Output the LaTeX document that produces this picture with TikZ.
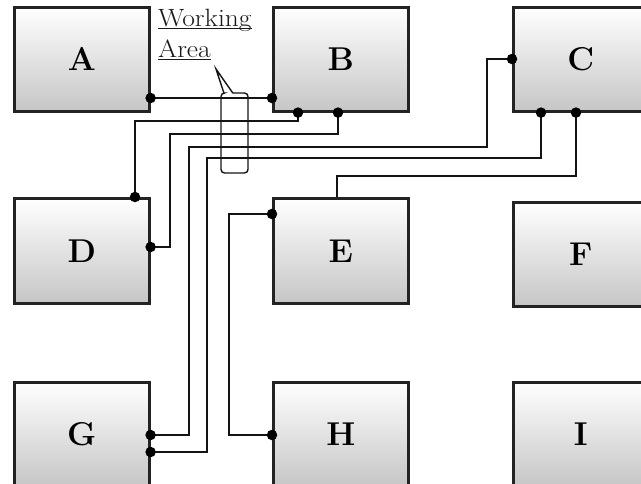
\documentclass[tikz,border=0pt]{standalone}
\usepackage{fontspec}
\newfontfamily\wafont[FakeStretch=1.1]{Latin Modern Roman}
\definecolor{boxc}{RGB}{35,35,35}
\definecolor{wirec}{RGB}{20,20,20}
\newsavebox\myulbox
\newcommand\myul[1]{\sbox\myulbox{#1}\usebox\myulbox\llap{\rule[-3pt]{\wd\myulbox}{1.4pt}}}
\begin{document}
\begin{tikzpicture}[x=1pt,y=-1pt,
  blk/.style={draw=boxc, line width=2.6pt, minimum width=135pt, minimum height=104pt,
    top color=white, middle color=white, bottom color=gray!45, inner sep=0pt,
    font=\fontsize{33}{35}\selectfont\bfseries, anchor=north west},
  wire/.style={draw=wirec, line width=2.4pt},
  pin/.style={circle, fill=black, inner sep=0pt, minimum size=10.5pt},
  walabel/.style={anchor=base west, inner sep=0pt, font=\wafont\fontsize{25}{27}\selectfont, text=black!90}]
\useasboundingbox (0,0) rectangle (641,483);
\clip (0,0) rectangle (641,483);
\fill[white] (0,0) rectangle (641,483);
% blocks
\node[blk] (A) at (13,6) {A};
\node[blk] (B) at (272,6) {B};
\node[blk] (C) at (512,6) {C};
\node[blk, minimum height=105pt] (D) at (13,197) {D};
\node[blk, minimum height=105pt] (E) at (272,197) {E};
\node[blk] (F) at (512,201) {F};
\node[blk] (G) at (13,381) {G};
\node[blk] (H) at (272,381) {H};
\node[blk] (I) at (512,381) {I};
% pins
\coordinate (a1) at (A.east |- 0,98);
\coordinate (b1) at (B.west |- 0,98);
\coordinate (b2) at (B.south -| 298,0);
\coordinate (b3) at (B.south -| 338,0);
\coordinate (c1) at (C.west |- 0,59);
\coordinate (c2) at (C.south -| 541,0);
\coordinate (c3) at (C.south -| 576,0);
\coordinate (d1) at (D.north -| 135,0);
\coordinate (d2) at (D.east |- 0,247);
\coordinate (eT) at (E.north -| 337,0);
\coordinate (e1) at (E.west |- 0,214);
\coordinate (g1) at (G.east |- 0,435);
\coordinate (g2) at (G.east |- 0,452);
\coordinate (h1) at (H.west |- 0,435);
% wires
\draw[wire] (a1) -- (b1);
\draw[wire] (b2) |- (135,121) -- (d1);
\draw[wire] (b3) |- (170,134) |- (d2);
\draw[wire] (c1) -| (487,147) -| (189,435) -- (g1);
\draw[wire] (c2) |- (207,158) |- (g2);
\draw[wire] (c3) |- (337,176) -- (eT);
\draw[wire] (e1) -| (229,435) -- (h1);
\foreach \p in {a1,b1,b2,b3,c1,c2,c3,d1,d2,e1,g1,g2,h1}
  \node[pin] at (\p) {};
% working area callout
\draw[draw=wirec, line width=1.4pt, rounded corners=3.5pt]
  (233,93) -- (248,93) -- (248,173) -- (221,173) -- (221,93) -- (224,93);
\draw[draw=wirec, line width=1.4pt, line join=miter] (224,93.3) -- (216,69) -- (233,93.3);
\node[walabel] (wa1) at (158,26) {\myul{Working}};
\node[walabel] (wa2) at (158,57) {\myul{Area}};
\end{tikzpicture}
\end{document}
